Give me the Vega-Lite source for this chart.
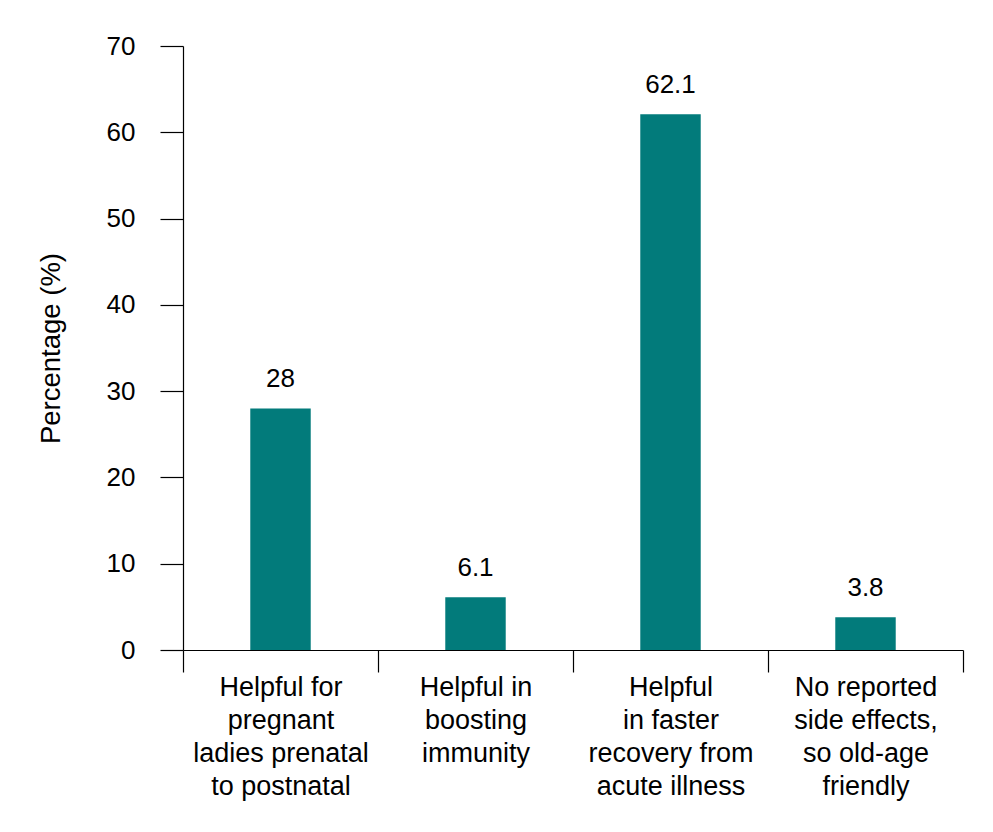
{
  "$schema": "https://vega.github.io/schema/vega-lite/v6.json",
  "width": 780,
  "height": 604,
  "autosize": {"type": "none"},
  "padding": {"left": 183, "top": 46, "right": 30, "bottom": 182},
  "background": "white",
  "config": {
    "view": {"stroke": null},
    "font": "Liberation Sans",
    "axis": {
      "domainColor": "#000000",
      "tickColor": "#000000",
      "labelColor": "#000000",
      "titleColor": "#000000",
      "domainWidth": 1.2,
      "tickWidth": 1.2,
      "grid": false,
      "labelFont": "Liberation Sans",
      "titleFont": "Liberation Sans",
      "labelFontSize": 26,
      "titleFontSize": 27.5,
      "titleFontWeight": "normal"
    }
  },
  "data": {
    "values": [
      {"category": "Helpful for|pregnant|ladies prenatal|to postnatal", "value": 28},
      {"category": "Helpful in|boosting|immunity", "value": 6.1},
      {"category": "Helpful|in faster|recovery from|acute illness", "value": 62.1},
      {"category": "No reported|side effects,|so old-age|friendly", "value": 3.8}
    ]
  },
  "encoding": {
    "x": {
      "field": "category",
      "type": "nominal",
      "sort": null,
      "scale": {"paddingInner": 0, "paddingOuter": 0},
      "axis": {
        "title": null,
        "labelAngle": 0,
        "labelExpr": "datum.value ? split(datum.value, '|') : ''",
        "labelFontSize": 27,
        "labelLineHeight": 33,
        "labelPadding": 2,
        "tickSize": 22,
        "tickBand": "extent",
        "labelAlign": "center"
      }
    },
    "y": {
      "field": "value",
      "type": "quantitative",
      "scale": {"domain": [0, 70]},
      "axis": {
        "values": [0, 10, 20, 30, 40, 50, 60, 70],
        "title": "Percentage (%)",
        "tickSize": 23,
        "labelPadding": 25,
        "titlePadding": 41
      }
    }
  },
  "layer": [
    {"mark": {"type": "bar", "color": "#027B7B", "width": {"band": 0.31}}},
    {
      "mark": {"type": "text", "baseline": "alphabetic", "dy": -21, "fontSize": 26, "color": "#000000", "font": "Liberation Sans"},
      "encoding": {"text": {"field": "value", "type": "quantitative"}}
    }
  ]
}
